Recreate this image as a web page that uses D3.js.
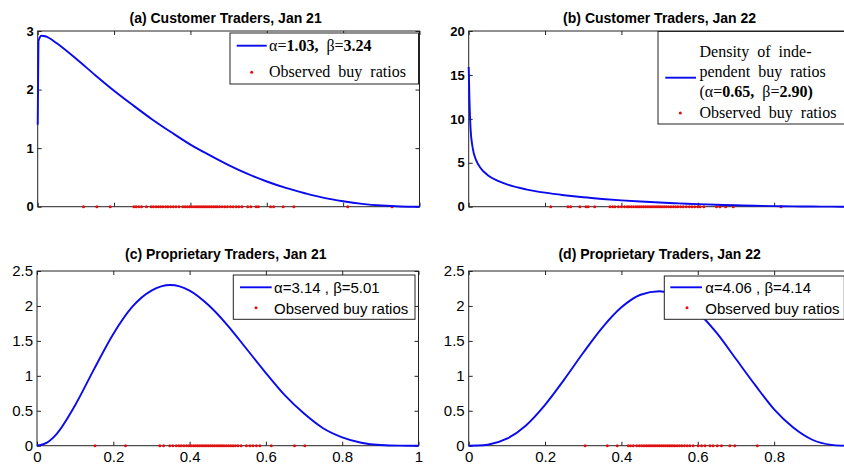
<!DOCTYPE html>
<html><head><meta charset="utf-8">
<script src="https://cdn.jsdelivr.net/npm/d3@7"></script>
<style>body{margin:0;background:#fff} svg{display:block;background:#fff}</style>
</head><body><svg id="c" width="844" height="466"></svg>
<script>
// ---------- DATA ----------
const titles = ["(a) Customer Traders, Jan 21","(b) Customer Traders, Jan 22","(c) Proprietary Traders, Jan 21","(d) Proprietary Traders, Jan 22"];
const xTicks = [0,0.2,0.4,0.6,0.8,1];
const xTickLabelsC = ["0","0.2","0.4","0.6","0.8","1"];
const xTickLabelsD = ["0","0.2","0.4","0.6","0.8",""];
const yTicksA = [0,1,2,3];
const yTicksB = [0,5,10,15,20];
const yTicksCD = [0,0.5,1,1.5,2,2.5];

const curveAx = [0,0.002,0.01,0.02,0.03,0.05,0.1,0.15,0.2,0.25,0.3,0.35,0.4,0.45,0.5,0.55,0.6,0.65,0.7,0.75,0.8,0.85,0.9,0.95,1];
const curveAy = [1.4,2.83,2.92,2.91,2.88,2.79,2.53,2.25,1.98,1.73,1.49,1.27,1.06,0.88,0.71,0.56,0.43,0.32,0.23,0.15,0.093,0.049,0.020,0.004,0];
const curveBx = [0,0.002,0.005,0.01,0.02,0.03,0.05,0.075,0.1,0.15,0.2,0.25,0.3,0.35,0.4,0.45,0.5,0.55,0.6,0.65,0.7,0.75,0.8,0.85,0.9,0.95,1];
const curveBy = [15.9,12.2,8.8,6.8,5.25,4.47,3.59,2.96,2.54,1.98,1.60,1.31,1.07,0.88,0.72,0.59,0.47,0.38,0.29,0.22,0.16,0.11,0.07,0.04,0.018,0.005,0];
const curveCx = [0,0.025,0.05,0.1,0.15,0.2,0.25,0.3,0.35,0.4,0.45,0.5,0.55,0.6,0.65,0.7,0.75,0.8,0.85,0.9,0.95,1];
const curveCy = [0,0.041,0.16,0.58,1.10,1.60,1.99,2.22,2.30,2.22,2.01,1.72,1.38,1.04,0.72,0.46,0.25,0.12,0.043,0.0095,0.0007,0];
const curveDx = [0,0.025,0.05,0.1,0.15,0.2,0.25,0.3,0.35,0.4,0.45,0.5,0.55,0.6,0.65,0.7,0.75,0.8,0.85,0.9,0.95,0.975,1];
const curveDy = [0,0.002,0.014,0.10,0.29,0.585,0.946,1.33,1.69,1.98,2.16,2.21,2.12,1.91,1.61,1.24,0.87,0.52,0.26,0.085,0.011,0.0016,0];

const obsA = [0.12,0.155,0.19,0.252,0.258,0.265,0.272,0.285,0.297,0.303,0.31,0.316,0.322,0.328,0.335,0.341,0.348,0.355,0.362,0.37,0.38,0.386,0.392,0.398,0.404,0.41,0.415,0.42,0.425,0.43,0.435,0.44,0.445,0.45,0.455,0.46,0.465,0.47,0.476,0.483,0.49,0.497,0.505,0.512,0.52,0.527,0.535,0.55,0.558,0.572,0.578,0.61,0.618,0.643,0.671,0.812,0.928];
const obsB = [0.215,0.26,0.267,0.291,0.307,0.313,0.33,0.37,0.377,0.383,0.392,0.4,0.408,0.415,0.42,0.426,0.432,0.438,0.443,0.448,0.453,0.458,0.463,0.468,0.473,0.478,0.483,0.488,0.493,0.498,0.503,0.508,0.513,0.518,0.524,0.53,0.536,0.542,0.548,0.555,0.562,0.57,0.578,0.585,0.592,0.6,0.606,0.616,0.649,0.658,0.673,0.693,0.818];
const obsC = [0.152,0.232,0.322,0.332,0.348,0.356,0.365,0.372,0.378,0.385,0.392,0.398,0.404,0.41,0.415,0.42,0.425,0.43,0.435,0.44,0.445,0.45,0.455,0.46,0.465,0.47,0.475,0.48,0.485,0.49,0.496,0.502,0.508,0.514,0.52,0.527,0.535,0.549,0.558,0.566,0.575,0.584,0.614,0.675,0.702];
const obsD = [0.305,0.363,0.389,0.418,0.424,0.431,0.44,0.447,0.453,0.459,0.465,0.47,0.475,0.48,0.485,0.49,0.495,0.5,0.505,0.51,0.515,0.52,0.525,0.53,0.535,0.54,0.546,0.552,0.558,0.565,0.572,0.579,0.588,0.601,0.61,0.619,0.632,0.64,0.651,0.662,0.684,0.697,0.756];

// ---------- DRAW ----------
const svg = d3.select("#c");
const BLUE = "#0a0aef", RED = "#e01010", AX = "#222";

function panel(cfg){
  const g = svg.append("g");
  const x = d3.scaleLinear().domain([0,1]).range([cfg.l,cfg.r]);
  const y = d3.scaleLinear().domain([0,cfg.ymax]).range([cfg.b,cfg.t]);
  const styleText = s => s.selectAll("text").attr("font-family","Arial, 'Liberation Sans', sans-serif")
      .attr("font-size",cfg.tickFont).attr("font-weight",cfg.tickBold?"bold":"normal").attr("fill","#000");
  const clean = s => { s.select(".domain").remove(); s.selectAll("line").attr("stroke",AX); };
  // axes
  g.append("g").attr("transform",`translate(0,${cfg.b})`)
    .call(d3.axisBottom(x).tickValues(xTicks).tickSize(-4).tickSizeOuter(0).tickPadding(6)
      .tickFormat(cfg.xLabels ? ((d,i)=>cfg.xLabels[i]) : (()=>"")))
    .call(clean).call(styleText);
  g.append("g").attr("transform",`translate(0,${cfg.t})`)
    .call(d3.axisTop(x).tickValues(xTicks).tickSize(-4).tickSizeOuter(0).tickFormat(()=>"")).call(clean);
  g.append("g").attr("transform",`translate(${cfg.l},0)`)
    .call(d3.axisLeft(y).tickValues(cfg.yTicks).tickSize(-4).tickSizeOuter(0).tickPadding(4).tickFormat(d=>String(d)))
    .call(clean).call(styleText);
  g.append("g").attr("transform",`translate(${cfg.r},0)`)
    .call(d3.axisRight(y).tickValues(cfg.yTicks).tickSize(-4).tickSizeOuter(0).tickFormat(()=>"")).call(clean);
  g.append("rect").attr("x",cfg.l).attr("y",cfg.t).attr("width",cfg.r-cfg.l).attr("height",cfg.b-cfg.t)
    .attr("fill","none").attr("stroke",AX).attr("stroke-width",1);
  // title
  g.append("text").attr("x",(cfg.l+cfg.r)/2 + (cfg.titleDx||0)).attr("y",cfg.titleY).attr("text-anchor","middle")
    .attr("font-family","Arial, 'Liberation Sans', sans-serif").attr("font-weight","bold").attr("font-size",14)
    .text(cfg.title);
  // dots
  g.append("g").selectAll("circle").data(cfg.obs).join("circle")
    .attr("cx",d=>x(d)).attr("cy",y(0)).attr("r",1.5).attr("fill",RED);
  // curve
  const pts = cfg.cx.map((v,i)=>[v,cfg.cy[i]]);
  g.append("path").datum(pts).attr("fill","none").attr("stroke",BLUE).attr("stroke-width",1.9)
    .attr("d",d3.line().x(d=>x(d[0])).y(d=>y(d[1])).curve(d3.curveMonotoneX));
  // legend
  const L = cfg.leg;
  g.append("rect").attr("x",L.x).attr("y",L.y).attr("width",L.w).attr("height",L.h)
    .attr("fill","#fff").attr("stroke",AX);
  g.append("line").attr("x1",L.lx1).attr("x2",L.lx2).attr("y1",L.ly).attr("y2",L.ly).attr("stroke",BLUE).attr("stroke-width",1.9);
  g.append("circle").attr("cx",L.dx).attr("cy",L.dy).attr("r",1.5).attr("fill",RED);
  L.rows.forEach(r=>{
    const t = g.append("text").attr("x",L.tx).attr("y",r.y).attr("font-family",L.font)
      .attr("font-size",L.size).attr("word-spacing",L.ws||0).attr("fill","#000");
    r.parts.forEach(p=>t.append("tspan").attr("font-weight",p.b?"bold":"normal").text(p.t));
  });
}

const serif = "'Liberation Serif','Times New Roman',serif";
const sans = "Arial, 'Liberation Sans', sans-serif";

panel({l:37.7,r:419.5,t:31,b:206.7,ymax:3,yTicks:yTicksA,tickFont:13,tickBold:true,xLabels:null,
  title:titles[0],titleY:22.7,titleDx:-3,obs:obsA,cx:curveAx,cy:curveAy,
  leg:{x:230,y:33,w:188.5,h:51,lx1:236.7,lx2:266.7,ly:45.7,dx:251.7,dy:72.3,tx:269,font:serif,size:16,ws:4,
    rows:[{y:51,parts:[{t:"α="},{t:"1.03, ",b:true},{t:"β="},{t:"3.24",b:true}]},
          {y:77,parts:[{t:"Observed buy ratios"}]}]}});

panel({l:468.7,r:850.5,t:31,b:206.7,ymax:20,yTicks:yTicksB,tickFont:13,tickBold:true,xLabels:null,
  title:titles[1],titleY:22.7,obs:obsB,cx:curveBx,cy:curveBy,
  leg:{x:658,y:31.5,w:200,h:92.5,lx1:665.3,lx2:696,ly:77.7,dx:680.3,dy:113,tx:699.5,font:serif,size:16,ws:4,
    rows:[{y:57,parts:[{t:"Density of inde-"}]},
          {y:77,parts:[{t:"pendent buy ratios"}]},
          {y:97,parts:[{t:"(α="},{t:"0.65, ",b:true},{t:"β="},{t:"2.90)",b:true}]},
          {y:117.5,parts:[{t:"Observed buy ratios"}]}]}});

panel({l:37,r:418.5,t:271,b:445.7,ymax:2.5,yTicks:yTicksCD,tickFont:15,tickBold:false,xLabels:xTickLabelsC,
  title:titles[2],titleY:259.3,titleDx:-2,obs:obsC,cx:curveCx,cy:curveCy,
  leg:{x:233.3,y:275,w:181.7,h:44.3,lx1:240,lx2:271.7,ly:287.3,dx:256,dy:307.7,tx:274,font:sans,size:15,
    rows:[{y:292.5,parts:[{t:"α=3.14 , β=5.01"}]},
          {y:313.5,parts:[{t:"Observed buy ratios"}]}]}});

panel({l:468.7,r:850.5,t:271,b:445.7,ymax:2.5,yTicks:yTicksCD,tickFont:15,tickBold:false,xLabels:xTickLabelsD,
  title:titles[3],titleY:259.3,obs:obsD,cx:curveDx,cy:curveDy,
  leg:{x:664.3,y:276,w:180,h:43.3,lx1:670.3,lx2:702,ly:287.3,dx:687,dy:307.7,tx:705.3,font:sans,size:15,
    rows:[{y:292.5,parts:[{t:"α=4.06 , β=4.14"}]},
          {y:313.5,parts:[{t:"Observed buy ratios"}]}]}});
</script>
</body></html>
